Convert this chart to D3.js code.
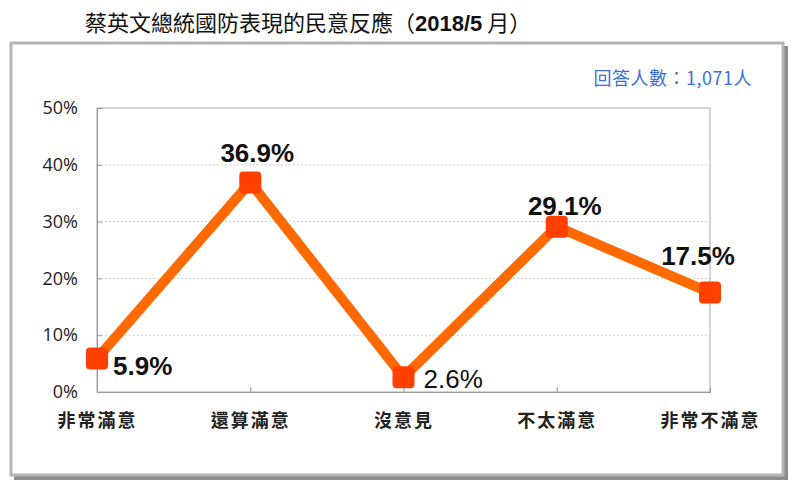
<!DOCTYPE html>
<html><head><meta charset="utf-8">
<script src="https://cdn.jsdelivr.net/npm/d3@7"></script>
<style>
html,body{margin:0;padding:0;background:#fff;}
svg{display:block;}
</style></head>
<body><svg id="c" width="800" height="491"></svg>
<script>
const categories = ["非常滿意","還算滿意","沒意見","不太滿意","非常不滿意"];
const values = [5.9, 36.9, 2.6, 29.1, 17.5];
const yTicks = [0, 10, 20, 30, 40, 50];
const title = "蔡英文總統國防表現的民意反應（";
const titleNum = "2018/5";
const titleEnd = " 月）";
const sampleNote = "回答人數：1,071人";

const svg = d3.select("#c");
const cjk = "'Noto Sans CJK TC','Noto Sans CJK SC',sans-serif";
const lat = "'Liberation Sans',Arial,sans-serif";

// frame with shadow
svg.append("rect").attr("x",14).attr("y",46).attr("width",774).attr("height",434).attr("fill","#8c8c8c");
svg.append("rect").attr("x",11).attr("y",43).attr("width",772).attr("height",432).attr("fill","#fff")
  .attr("stroke","#b4b4b4").attr("stroke-width",3);

// title
const t = svg.append("text").attr("x",85).attr("y",31).attr("font-size",22).attr("fill","#111").attr("font-family",cjk);
t.append("tspan").text(title);
t.append("tspan").attr("font-family",lat).attr("font-weight","bold").text(titleNum);
t.append("tspan").text(titleEnd);

svg.append("text").attr("x",752).attr("y",85).attr("text-anchor","end")
  .attr("font-family",cjk).attr("font-size",18).attr("letter-spacing","0.5px").attr("fill","#3b6fd6").text(sampleNote);

const L=97, R=710, T=108, B=392;
const x = d3.scalePoint().domain(categories).range([L,R]);
const y = d3.scaleLinear().domain([0,50]).range([B,T]);

// gridlines
svg.append("g").selectAll("line").data(yTicks.filter(d=>d>0 && d<50)).join("line")
  .attr("x1",L).attr("x2",R).attr("y1",d=>y(d)).attr("y2",d=>y(d))
  .attr("stroke","#d0d0d0").attr("stroke-dasharray","2,2").attr("stroke-width",1);

// plot box
svg.append("rect").attr("x",L).attr("y",T).attr("width",R-L).attr("height",B-T)
  .attr("fill","none").attr("stroke","#a8a8a8").attr("stroke-width",1);

// y axis
const ya = svg.append("g").attr("transform",`translate(${L},0)`)
  .call(d3.axisLeft(y).tickValues(yTicks).tickFormat(d=>d+"%").tickSize(-5).tickPadding(19));
ya.select(".domain").attr("stroke","#999");
ya.selectAll(".tick line").attr("stroke","#999");
ya.selectAll("text").attr("font-family","'Open Sans',sans-serif").attr("font-size",18).attr("fill","#222");

// x axis
const xa = svg.append("g").attr("transform",`translate(0,${B})`)
  .call(d3.axisBottom(x).tickSize(-5).tickPadding(22));
xa.select(".domain").attr("stroke","#999");
xa.selectAll(".tick line").attr("stroke","#999");
xa.selectAll("text").attr("font-family",cjk).attr("font-size",18).attr("font-weight","bold")
  .attr("fill","#222").attr("letter-spacing","2px");

// line
const data = categories.map((c,i)=>({c, v:values[i]}));
svg.append("path").datum(data)
  .attr("d", d3.line().x(d=>x(d.c)).y(d=>y(d.v)))
  .attr("fill","none").attr("stroke","#ff6a00").attr("stroke-width",10).attr("stroke-linejoin","miter");

// markers
const ms = 22;
svg.append("g").selectAll("rect").data(data).join("rect")
  .attr("x",d=>x(d.c)-ms/2).attr("y",d=>y(d.v)-ms/2).attr("width",ms).attr("height",ms)
  .attr("rx",4).attr("fill","#ff4000");

// labels
const lab = [
  {dx:16, dy:17, anchor:"start", bold:true},
  {dx:7, dy:-20, anchor:"middle", bold:true},
  {dx:20, dy:11, anchor:"start", bold:false},
  {dx:8, dy:-12, anchor:"middle", bold:true},
  {dx:-12, dy:-28, anchor:"middle", bold:true}
];
svg.append("g").selectAll("text").data(data).join("text")
  .attr("x",(d,i)=>x(d.c)+lab[i].dx).attr("y",(d,i)=>y(d.v)+lab[i].dy)
  .attr("text-anchor",(d,i)=>lab[i].anchor)
  .attr("font-family",lat).attr("font-size",26)
  .attr("font-weight",(d,i)=>lab[i].bold?"bold":"normal")
  .attr("fill","#111").text(d=>d.v.toFixed(1)+"%");
</script></body></html>
